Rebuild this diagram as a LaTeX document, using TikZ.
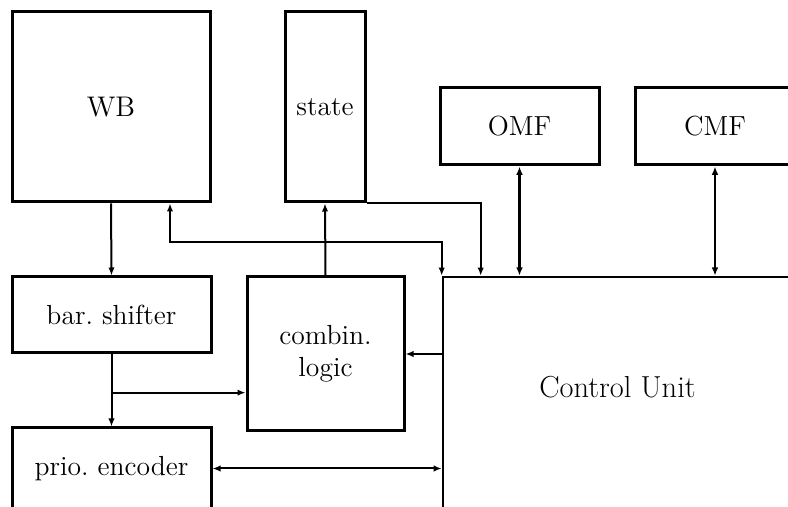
\documentclass[tikz,border=0pt]{standalone}
\usetikzlibrary{arrows.meta,calc}
\begin{document}
\begin{tikzpicture}[x=0.5pt,y=-0.5pt,
  blk/.style={draw,line width=1.5pt,inner sep=0pt,font=\fontsize{13.8}{16}\selectfont},
  tip/.style={Latex[length=4pt,width=3.2pt]},
  conn/.style={line width=1pt,-{Latex[length=4pt,width=3.2pt]}},
  biconn/.style={line width=1pt,{Latex[length=4pt,width=3.2pt]}-{Latex[length=4pt,width=3.2pt]}},
  bus/.style={line width=1.4pt,{Latex[length=4.2pt,width=3.4pt]}-{Latex[length=4.2pt,width=3.4pt]}}]
\useasboundingbox (0,0) rectangle (788,507);

% blocks
\node[blk,minimum width=99pt,minimum height=95pt,font=\fontsize{14.2}{17}\selectfont] (wb) at (111,107) {WB};
\node[blk,minimum width=40pt,minimum height=95pt] (st) at (325,107) {state};
\node[blk,minimum width=79.5pt,minimum height=38.5pt] (omf) at (519.5,126.5) {OMF};
\node[blk,minimum width=80pt,minimum height=38.5pt] (cmf) at (715,126.5) {CMF};
\node[blk,minimum width=99.5pt,minimum height=38pt] (bs) at (111.5,315) {bar.\ shifter};
\node[blk,minimum width=78.5pt,minimum height=77pt,align=center] (cl) at (325.5,354) {combin.\\logic};
\node[blk,minimum width=99.5pt,minimum height=40.5pt] (pe) at (111.5,468.5) {prio.\ encoder};

% control unit: only its top and left edges lie inside the picture
\node[draw,line width=1.3pt,inner sep=0pt,minimum width=178.5pt,minimum height=121.5pt] (cu) at (621.5,398.5) {};
\node[font=\fontsize{15.2}{18}\selectfont] (cutext) at (617.5,387) {Control Unit};

% data paths
\draw[conn] (wb.south) -- (bs.north);
\coordinate (br) at ($(bs.south)!0.53!(pe.north)$);
\draw[conn] (bs.south) -- (pe.north);
\draw[conn] (br) -- (cl.west |- br);
\draw[conn] (cl.north) -- (st.south);
\draw[biconn] ([xshift=29.5pt]wb.south) -- ++(0,39) -| (cu.north west);
\draw[conn] (st.south east) -| ([xshift=19.5pt]cu.north west);
\draw[bus] (omf.south) -- (omf.south |- cu.north);
\draw[bus] (cmf.south) -- (cmf.south |- cu.north);
\draw[conn] (cl.east -| cu.west) -- (cl.east);
\draw[biconn] (pe.east) -- (pe.east -| cu.west);
\end{tikzpicture}
\end{document}
